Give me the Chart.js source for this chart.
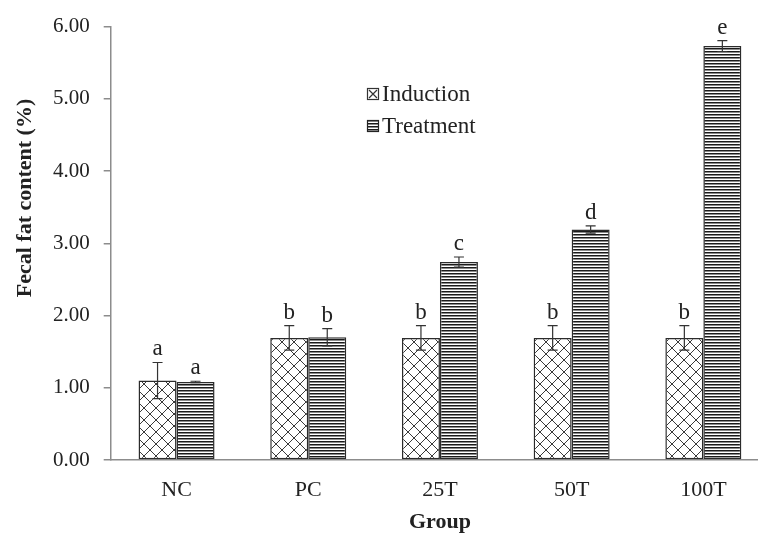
<!DOCTYPE html>
<html>
<head>
<meta charset="utf-8">
<script src="https://cdn.jsdelivr.net/npm/chart.js@4.4.1/dist/chart.umd.min.js"></script>
<style>
html,body{margin:0;padding:0;width:758px;height:539px;overflow:hidden;background:#fff;}
#wrap{width:780px;height:539px;}
</style>
</head>
<body>
<div id="wrap"><canvas id="c" width="780" height="539"></canvas></div>
<script>
const categories = ['NC', 'PC', '25T', '50T', '100T'];
const seriesNames = ['Induction', 'Treatment'];
const inductionValues = [1.10, 1.69, 1.69, 1.69, 1.69];
const inductionErrors = [0.25, 0.17, 0.17, 0.17, 0.17];
const treatmentValues = [1.08, 1.70, 2.74, 3.19, 5.73];
const treatmentErrors = [0.01, 0.12, 0.07, 0.05, 0.075];
const inductionLetters = ['a', 'b', 'b', 'b', 'b'];
const treatmentLetters = ['a', 'b', 'c', 'd', 'e'];
const yTicks = [0, 1, 2, 3, 4, 5, 6];

const FONT = '"Liberation Serif", "Times New Roman", serif';
const canvas = document.getElementById('c');
const ctx = canvas.getContext('2d');

function crossPattern() {
  const c = document.createElement('canvas');
  c.width = 12; c.height = 12;
  const g = c.getContext('2d');
  g.fillStyle = '#fff'; g.fillRect(0, 0, 12, 12);
  g.strokeStyle = '#3a3a3a'; g.lineWidth = 1;
  g.beginPath();
  g.moveTo(-1, -1); g.lineTo(13, 13);
  g.moveTo(13, -1); g.lineTo(-1, 13);
  g.stroke();
  return ctx.createPattern(c, 'repeat');
}
function stripePattern() {
  const c = document.createElement('canvas');
  c.width = 4; c.height = 3;
  const g = c.getContext('2d');
  g.fillStyle = '#fff'; g.fillRect(0, 0, 4, 3);
  g.fillStyle = '#1a1a1a'; g.fillRect(0, 0, 4, 1);
  g.fillStyle = '#8a8a8a'; g.fillRect(0, 1, 4, 1);
  return ctx.createPattern(c, 'repeat');
}
const crossFill = crossPattern();
const stripeFill = stripePattern();

const errorPlugin = {
  id: 'errorBars',
  afterDatasetsDraw(chart) {
    const y = chart.scales.y;
    const c = chart.ctx;
    const errs = [inductionErrors, treatmentErrors];
    const vals = [inductionValues, treatmentValues];
    const letters = [inductionLetters, treatmentLetters];
    c.save();
    chart.data.datasets.forEach((ds, di) => {
      const meta = chart.getDatasetMeta(di);
      meta.data.forEach((el, i) => {
        const v = vals[di][i], e = errs[di][i];
        const yt = y.getPixelForValue(v + e);
        const yb = y.getPixelForValue(v - e);
        const x = el.x;
        c.strokeStyle = '#333';
        c.lineWidth = 1.2;
        c.beginPath();
        c.moveTo(x, yt); c.lineTo(x, yb);
        c.moveTo(x - 5, yt); c.lineTo(x + 5, yt);
        c.moveTo(x - 5, yb); c.lineTo(x + 5, yb);
        c.stroke();
        c.fillStyle = '#222';
        c.font = '23px ' + FONT;
        c.textAlign = 'center';
        c.textBaseline = 'alphabetic';
        c.fillText(letters[di][i], x, yt - 7);
      });
    });
    // legend
    const lx = 367;
    const rows = [88, 120];
    c.font = '23px ' + FONT;
    c.textAlign = 'left';
    c.textBaseline = 'alphabetic';
    rows.forEach((ry, k) => {
      if (k === 0) {
        c.fillStyle = '#fff';
        c.fillRect(lx, ry, 12, 12);
        c.strokeStyle = '#333'; c.lineWidth = 1.2;
        c.strokeRect(lx + 0.5, ry + 0.5, 11, 11);
        c.beginPath();
        c.moveTo(lx + 2, ry + 2); c.lineTo(lx + 10, ry + 10);
        c.moveTo(lx + 10, ry + 2); c.lineTo(lx + 2, ry + 10);
        c.stroke();
      } else {
        c.fillStyle = stripeFill;
        c.fillRect(lx, ry, 12, 12);
        c.strokeStyle = '#222'; c.lineWidth = 1.2;
        c.strokeRect(lx + 0.5, ry + 0.5, 11, 11);
      }
      c.fillStyle = '#222';
      c.fillText(seriesNames[k], lx + 15, ry + 13);
    });
    // y title
    c.save();
    c.translate(25, 198);
    c.rotate(-Math.PI / 2);
    c.font = 'bold 22px ' + FONT;
    c.textAlign = 'center';
    c.textBaseline = 'middle';
    c.fillStyle = '#222';
    c.fillText('Fecal fat content (%)', 0, 0);
    c.restore();
    c.restore();
  }
};

new Chart(ctx, {
  type: 'bar',
  data: {
    labels: categories,
    datasets: [
      { label: seriesNames[0], data: inductionValues, backgroundColor: crossFill, borderColor: '#2b2b2b', borderWidth: 1.5, borderSkipped: false },
      { label: seriesNames[1], data: treatmentValues, backgroundColor: stripeFill, borderColor: '#2b2b2b', borderWidth: 1.5, borderSkipped: false }
    ]
  },
  options: {
    responsive: false,
    animation: false,
    devicePixelRatio: 1,
    layout: { padding: { left: 0, right: 10.8, top: 20, bottom: 0 } },
    plugins: { legend: { display: false }, tooltip: { enabled: false } },
    datasets: { bar: { categoryPercentage: 0.577, barPercentage: 1.0 } },
    scales: {
      x: {
        grid: { display: false, drawTicks: false },
        border: { display: true, color: '#8c8c8c', width: 1.5 },
        ticks: { color: '#222', font: { family: FONT, size: 22 }, padding: 17 },
        title: { display: true, text: 'Group', color: '#222', font: { family: FONT, size: 22, weight: 'bold' }, padding: { top: 0, bottom: 3 } },
        afterFit(s) { s.height = 79; }
      },
      y: {
        min: 0, max: 6,
        afterBuildTicks(s) { s.ticks = yTicks.map(v => ({ value: v })); },
        grid: { display: true, drawOnChartArea: false, drawTicks: true, tickLength: 7, color: '#8c8c8c', lineWidth: 1.5 },
        border: { display: true, color: '#8c8c8c', width: 1.5 },
        ticks: { color: '#222', font: { family: FONT, size: 21 }, padding: 14, callback: v => Number(v).toFixed(2) },
        afterFit(s) { s.width = 110.7; }
      }
    }
  },
  plugins: [errorPlugin]
});
</script>
</body>
</html>
